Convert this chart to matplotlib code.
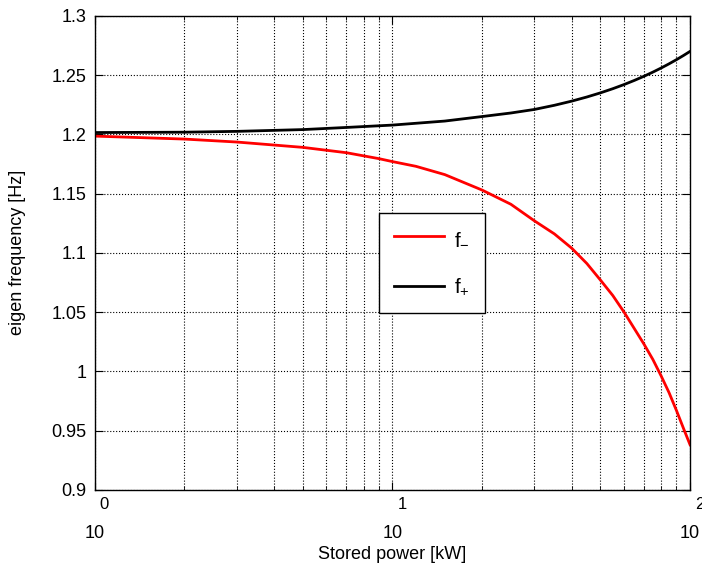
import numpy as np
import matplotlib
matplotlib.use("Agg")
import matplotlib.pyplot as plt
import matplotlib.transforms as mtransforms
from matplotlib.ticker import LogLocator, NullFormatter

# Valores
potencia_minus = [1, 2, 3, 5, 7, 9, 10, 12, 15, 20, 25, 30, 35, 40, 45, 50,
                  55, 60, 65, 70, 75, 80, 85, 90, 95, 100]
f_minus = [1.1985, 1.196, 1.1935, 1.189, 1.1845, 1.1795, 1.177, 1.173, 1.166,
           1.153, 1.141, 1.127, 1.116, 1.104, 1.091, 1.077, 1.064, 1.050,
           1.036, 1.023, 1.010, 0.996, 0.982, 0.967, 0.952, 0.938]

potencia_plus = [1, 2, 3, 5, 7, 10, 15, 20, 25, 30, 35, 40, 45, 50, 55, 60,
                 65, 70, 75, 80, 85, 90, 95, 100]
f_plus = [1.2015, 1.2018, 1.2025, 1.204, 1.2058, 1.2078, 1.2112, 1.215, 1.218,
          1.221, 1.2245, 1.228, 1.2315, 1.235, 1.2385, 1.242, 1.2455, 1.249,
          1.2525, 1.256, 1.2595, 1.263, 1.2665, 1.270]

y_ticks = [0.9, 0.95, 1.0, 1.05, 1.1, 1.15, 1.2, 1.25, 1.3]
y_labels = ['0.9', '0.95', '1', '1.05', '1.1', '1.15', '1.2', '1.25', '1.3']
x_ticks = [1, 10, 100]
x_exps = ['0', '1', '2']

plt.rcParams['font.family'] = ['Liberation Sans', 'DejaVu Sans']
plt.rcParams['mathtext.fontset'] = 'custom'
plt.rcParams['mathtext.rm'] = 'Liberation Sans'
plt.rcParams['mathtext.it'] = 'Liberation Sans:italic'

fig = plt.figure(figsize=(7.02, 5.65), dpi=100)
ax = fig.add_axes([0.135, 0.133, 0.848, 0.839])

ax.plot(potencia_minus, f_minus, color='red', lw=2, label=r'f$_{-}$')
ax.plot(potencia_plus, f_plus, color='black', lw=2, label=r'f$_{+}$')

ax.set_xscale('log')
ax.set_xlim(1, 100)
ax.set_ylim(0.9, 1.3)
ax.set_yticks(y_ticks)
ax.set_yticklabels(y_labels)
ax.set_xticks(x_ticks)
ax.set_xticklabels(['10'] * len(x_ticks))
ax.xaxis.set_minor_locator(LogLocator(base=10, subs=np.arange(2, 10)))
ax.xaxis.set_minor_formatter(NullFormatter())

ax.grid(True, which='major', color='black', linestyle=':', linewidth=0.8)
ax.grid(True, which='minor', axis='x', color='black', linestyle=':', linewidth=0.8)

ax.tick_params(which='both', direction='in', top=True, right=True,
               labelsize=13)
ax.tick_params(axis='y', pad=6)
ax.tick_params(axis='x', pad=25)
ax.tick_params(which='major', length=6)
ax.tick_params(which='minor', length=3)
for s in ax.spines.values():
    s.set_linewidth(1.0)

# exponentes estilo MATLAB
trans = mtransforms.blended_transform_factory(ax.transData, ax.transAxes)
for v, e in zip(x_ticks, x_exps):
    t = ax.text(v, 0, e, transform=trans, fontsize=12, ha='left', va='top',
                clip_on=False)
    t.set_transform(trans + mtransforms.ScaledTranslation(5 / 100, -7 / 100,
                                                         fig.dpi_scale_trans))

ax.set_xlabel('Stored power [kW]', fontsize=13, labelpad=3)
ax.set_ylabel('eigen frequency [Hz]', fontsize=13)
ax.yaxis.set_label_coords(-0.115, 0.5)

leg = ax.legend(loc='upper left', bbox_to_anchor=(0.477, 0.584),
                borderaxespad=0, fontsize=15, fancybox=False, framealpha=1,
                edgecolor='black', handlelength=2.4, handletextpad=0.45,
                borderpad=0.75, labelspacing=1.4)
leg.get_frame().set_linewidth(1.0)

fig.savefig('out.png', dpi=100)
